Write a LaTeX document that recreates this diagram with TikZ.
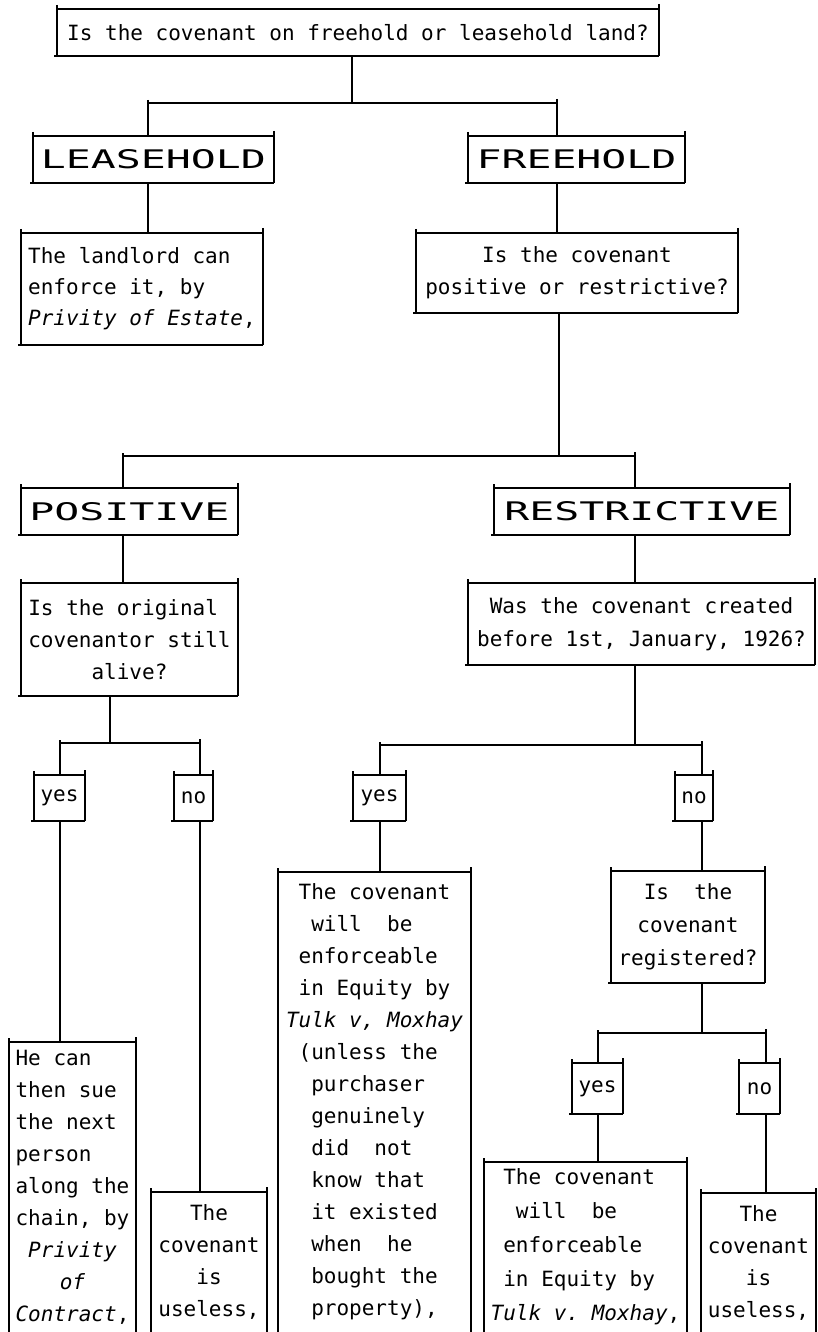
\documentclass[tikz,border=0pt]{standalone}
\usepackage{fontspec}
\usepackage{graphicx}
\setmainfont{DejaVu Sans Mono}
\newlength{\mycw}\setlength{\mycw}{12.642pt}
\newcommand{\myind}[1]{\hspace*{#1\mycw}}
\newcommand{\frm}[1]{%
  \draw ([yshift=4pt]#1.north west) -- (#1.south west);
  \draw (#1.north west) -- (#1.north east);
  \draw ([xshift=-3pt]#1.south west) -- (#1.south east);
  \draw ([yshift=5pt]#1.north east) -- (#1.south east);
}
\newcommand{\ofrm}[1]{%
  \draw ([yshift=4pt]#1.north west) -- (#1.south west);
  \draw (#1.north west) -- (#1.north east);
  \draw ([yshift=5pt]#1.north east) -- (#1.south east);
}
\tikzset{
  bx/.style={draw=none, inner sep=0pt, outer sep=0pt, rectangle,
    font=\fontsize{21}{32}\selectfont\frenchspacing},
  txtl/.style={bx, align=left},
  txtc/.style={bx, align=center},
  hd/.style={bx},
}
\begin{document}
\begin{tikzpicture}[x=1pt, y=-1pt, line width=1.8pt]
\fill[white] (0,0) rectangle (818,1332);
\useasboundingbox (0,0) rectangle (818,1332);

% ---------- nodes ----------
\node[txtc, minimum width=602pt, minimum height=47pt] (top) at (358,32.5)
  {Is the covenant on freehold or leasehold land?};
\node[hd, minimum width=241pt, minimum height=47pt] (lease) at (153.5,159.5)
  {\resizebox{225pt}{19pt}{LEASEHOLD}};
\node[hd, minimum width=217pt, minimum height=47pt] (free) at (576.5,159.5)
  {\resizebox{200pt}{19pt}{FREEHOLD}};
\node[txtl, minimum width=242pt, minimum height=112pt,
      font=\fontsize{21}{31}\selectfont\frenchspacing] (land) at (142,289)
  {The landlord can\\enforce it, by\\\textit{Privity of Estate},};
\node[txtc, minimum width=322pt, minimum height=80pt] (posq) at (577,273)
  {Is the covenant\\positive or restrictive?};
\node[hd, minimum width=217pt, minimum height=47pt] (pos) at (129.5,511.5)
  {\resizebox{200pt}{18pt}{POSITIVE}};
\node[hd, minimum width=296pt, minimum height=47pt] (res) at (642,511.5)
  {\resizebox{275pt}{19pt}{RESTRICTIVE}};
\node[txtl, minimum width=217pt, minimum height=113pt] (orig) at (129.5,639.5)
  {Is the original\\covenantor still\\\myind{5}alive?};
\node[txtc, minimum width=347pt, minimum height=82pt,
      font=\fontsize{21}{33}\selectfont\frenchspacing] (was) at (641.5,624)
  {Was the covenant created\\before 1st, January, 1926?};
\node[txtc, minimum width=51pt, minimum height=46pt] (yes1) at (59.5,798) {yes};
\node[txtc, minimum width=39pt, minimum height=46pt] (no1) at (193.5,798) {no};
\node[txtc, minimum width=53pt, minimum height=46pt] (yes2) at (379.5,798) {yes};
\node[txtc, minimum width=38pt, minimum height=46pt] (no2) at (694,798) {no};
\node[txtc, minimum width=154pt, minimum height=112pt,
      font=\fontsize{21}{33}\selectfont\frenchspacing] (reg) at (688,927)
  {Is~~the\\covenant\\registered?};
\node[txtc, minimum width=51pt, minimum height=51pt] (yes3) at (597.5,1088.5) {yes};
\node[txtc, minimum width=41pt, minimum height=51pt] (no3) at (759.5,1088.5) {no};
\node[txtl, minimum width=127pt, minimum height=290pt] (hecan) at (72.5,1187)
  {He can\\then sue\\the next\\person\\along the\\chain, by\\\myind{1}\textit{Privity}\\\myind{3.5}\textit{of}\\\textit{Contract},};
\node[txtc, minimum width=116pt, minimum height=140pt] (use1) at (209,1262)
  {The\\covenant\\is\\useless,};
\node[txtl, minimum width=193pt, minimum height=460pt] (long) at (374.5,1102)
  {\myind{1}The covenant\\\myind{2}will~~be\\\myind{1}enforceable\\\myind{1}in Equity by\\\textit{Tulk v, Moxhay}\\\myind{1}(unless the\\\myind{2}purchaser\\\myind{2}genuinely\\\myind{2}did~~not\\\myind{2}know that\\\myind{2}it existed\\\myind{2}when~~he\\\myind{2}bought the\\\myind{2}property),};
\node[txtl, minimum width=203pt, minimum height=170pt,
      font=\fontsize{21}{34}\selectfont\frenchspacing] (will) at (585.5,1247)
  {\myind{1}The covenant\\\myind{2}will~~be\\\myind{1}enforceable\\\myind{1}in Equity by\\\textit{Tulk v. Moxhay},};
\node[txtc, minimum width=115pt, minimum height=139pt] (use2) at (758.5,1262.5)
  {The\\covenant\\is\\useless,};

% ---------- frames ----------
\frm{top}\frm{lease}\frm{free}\frm{land}\frm{posq}\frm{pos}\frm{res}
\frm{orig}\frm{was}\frm{yes1}\frm{no1}\frm{yes2}\frm{no2}\frm{reg}
\frm{yes3}\frm{no3}
\ofrm{hecan}\ofrm{use1}\ofrm{long}\ofrm{will}\ofrm{use2}

% ---------- branch A ----------
\coordinate (jA) at (352,103);
\coordinate (aL) at (148,103);
\coordinate (aR) at (557,103);
\draw (top.south -| jA) -- (jA);
\draw (aL) -- (aR);
\draw ([yshift=3pt]aL) -- (aL |- lease.north);
\draw ([yshift=4pt]aR) -- (aR |- free.north);
\draw (lease.south -| aL) -- (land.north -| aL);
\draw (free.south -| aR) -- (posq.north -| aR);

% ---------- branch B ----------
\coordinate (jB) at (559,456);
\coordinate (bL) at (123,456);
\coordinate (bR) at (635,456);
\draw (posq.south -| jB) -- (jB);
\draw (bL) -- (bR);
\draw ([yshift=3pt]bL) -- (bL |- pos.north);
\draw ([yshift=4pt]bR) -- (bR |- res.north);
\draw (pos.south -| bL) -- (orig.north -| bL);
\draw (res.south -| bR) -- (was.north -| bR);

% ---------- branch C ----------
\coordinate (jC) at (110,743);
\coordinate (cL) at (60,743);
\coordinate (cR) at (200,743);
\draw (orig.south -| jC) -- (jC);
\draw (cL) -- (cR);
\draw ([yshift=3pt]cL) -- (cL |- yes1.north);
\draw ([yshift=4pt]cR) -- (cR |- no1.north);
\draw (yes1.south -| cL) -- (hecan.north -| cL);
\draw (no1.south -| cR) -- (use1.north -| cR);

% ---------- branch D ----------
\coordinate (jD) at (635,745);
\coordinate (dL) at (380,745);
\coordinate (dR) at (702,745);
\draw (was.south -| jD) -- (jD);
\draw (dL) -- (dR);
\draw ([yshift=3pt]dL) -- (dL |- yes2.north);
\draw ([yshift=4pt]dR) -- (dR |- no2.north);
\draw (yes2.south -| dL) -- (long.north -| dL);
\draw (no2.south -| dR) -- (reg.north -| dR);

% ---------- branch E ----------
\coordinate (jE) at (702,1033);
\coordinate (eL) at (598,1033);
\coordinate (eR) at (766,1033);
\draw (reg.south -| jE) -- (jE);
\draw (eL) -- (eR);
\draw ([yshift=3pt]eL) -- (eL |- yes3.north);
\draw ([yshift=4pt]eR) -- (eR |- no3.north);
\draw (yes3.south -| eL) -- (will.north -| eL);
\draw (no3.south -| eR) -- (use2.north -| eR);
\end{tikzpicture}
\end{document}
